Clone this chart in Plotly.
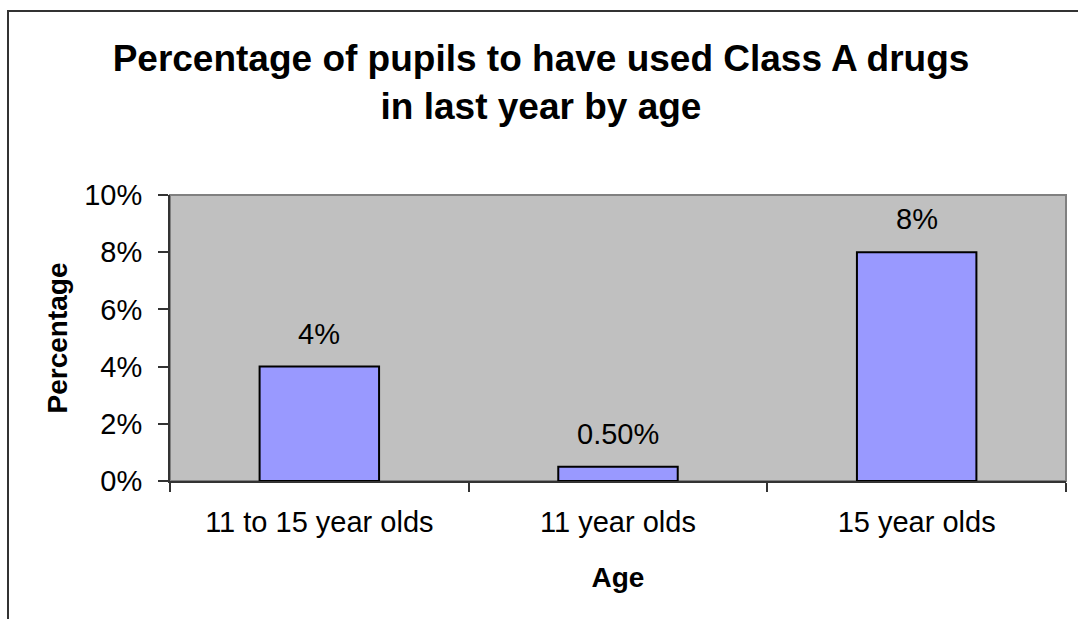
import plotly.graph_objects as go

# Share of pupils who used Class A drugs in the last year, by age group
categories = ["11 to 15 year olds", "11 year olds", "15 year olds"]
values = [0.04, 0.005, 0.08]
value_labels = ["4%", "0.50%", "8%"]
y_ticks = [0, 0.02, 0.04, 0.06, 0.08, 0.10]
y_tick_labels = ["0%", "2%", "4%", "6%", "8%", "10%"]

FONT = "Liberation Sans, Arial, sans-serif"
W, H = 1078, 619
L, R, T, B = 170, 12, 195, 138
plot_w = W - L - R
plot_h = H - T - B


def px_to_paper_x(px):
    return (px - L) / plot_w


def px_to_paper_y(py):
    return (H - B - py) / plot_h


fig = go.Figure(
    go.Bar(
        x=categories,
        y=values,
        width=0.4,
        marker=dict(color="#9999FF", line=dict(color="#000000", width=2)),
        hoverinfo="x+y",
    )
)

# value labels floating above each bar
for cat, val, lab in zip(categories, values, value_labels):
    fig.add_annotation(
        x=cat, y=val, text=lab, showarrow=False,
        yanchor="bottom", yshift=15,
        font=dict(family=FONT, size=29, color="#000000"),
    )

# plot-area frame (top/right edges) in grey
fig.add_shape(
    type="rect", xref="paper", yref="paper", x0=0, y0=0, x1=1, y1=1,
    line=dict(color="#808080", width=2), layer="below",
)

# chart border: only the left and top edges fall inside the canvas
bx0 = px_to_paper_x(8)
by_top = px_to_paper_y(11)
by_bot = px_to_paper_y(H + 20)
bx_right = px_to_paper_x(W + 20)
fig.add_shape(
    type="path", xref="paper", yref="paper",
    path=f"M {bx0},{by_bot} L {bx0},{by_top} L {bx_right},{by_top}",
    line=dict(color="#333333", width=2),
)

fig.update_layout(
    width=W, height=H,
    margin=dict(l=L, r=R, t=T, b=B, pad=0),
    paper_bgcolor="#FFFFFF",
    plot_bgcolor="#C0C0C0",
    showlegend=False,
    font=dict(family=FONT, color="#000000"),
    title=dict(
        text="Percentage of pupils to have used Class A drugs<br>in last year by age",
        x=px_to_paper_x(541), xref="paper", xanchor="center",
        y=1 - 71 / H, yref="container", yanchor="top",
        font=dict(family=FONT, size=37, color="#000000", weight="bold"),
    ),
    xaxis=dict(
        title=dict(text="Age", font=dict(family=FONT, size=28, weight="bold"), standoff=31),
        showgrid=False, zeroline=False,
        showline=True, linecolor="#333333", linewidth=2,
        ticks="outside", tickson="boundaries", ticklen=9, tickwidth=1.5, tickcolor="#333333",
        tickfont=dict(family=FONT, size=29),
        ticklabelstandoff=14,
    ),
    yaxis=dict(
        title=dict(text="Percentage", font=dict(family=FONT, size=28, weight="bold"), standoff=8),
        range=[0, 0.1],
        tickvals=y_ticks, ticktext=y_tick_labels,
        showgrid=False, zeroline=False,
        showline=True, linecolor="#333333", linewidth=2,
        ticks="outside", ticklen=10, tickwidth=1.5, tickcolor="#333333",
        tickfont=dict(family=FONT, size=29),
        ticklabelstandoff=10,
    ),
    bargap=0.6,
)

fig.write_html("out.html")
